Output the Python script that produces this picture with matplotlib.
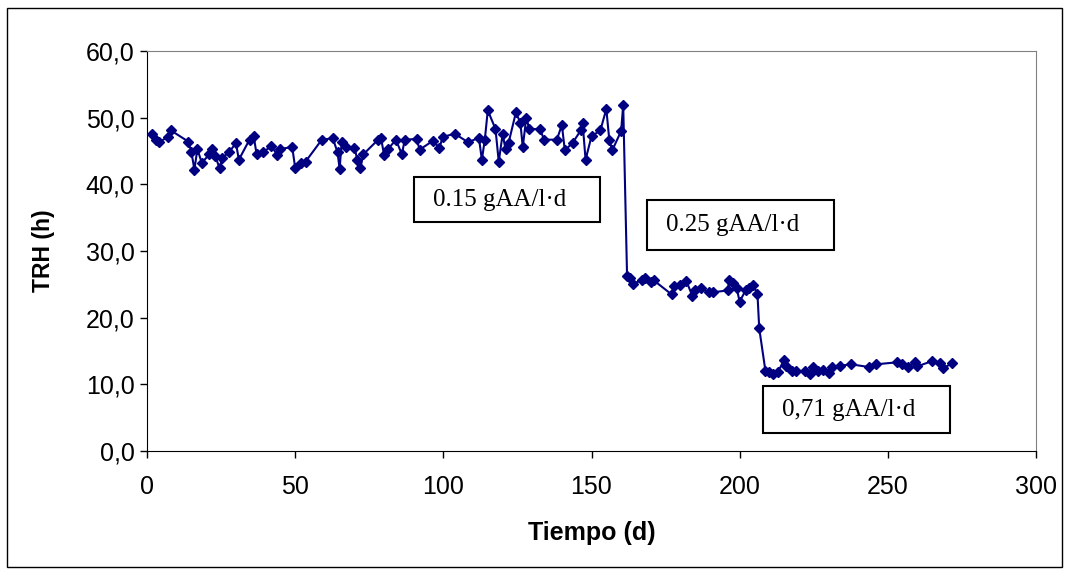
import matplotlib
matplotlib.use('Agg')
from matplotlib import pyplot as plt
from matplotlib.patches import Rectangle
from matplotlib.ticker import FuncFormatter

# data
dias = [1.6, 3, 4, 7, 8, 14, 15, 16, 17, 18.5, 21, 22, 23, 24.5, 25.4, 27.7, 30, 31,
        34.6, 36, 37, 39, 42, 44, 45, 49, 50, 52, 53.5, 59, 62.7, 64.3, 65, 65.7, 67,
        70, 71, 72, 73, 78, 79, 80, 81.4, 84, 86, 87, 91, 92, 96.4, 98.7, 99.8, 103.8,
        108.4, 112, 113, 114, 115, 117.6, 118.7, 120, 121, 122, 124.5, 126, 126.8, 128,
        129, 132.6, 134, 138.3, 140, 141, 143.6, 146.4, 147, 148, 150, 153, 155, 156,
        157, 160, 160.7, 162, 163, 164, 167, 168, 170, 171, 177, 178, 180, 182, 184,
        185, 187, 189.5, 191, 196, 196.5, 197.6, 199, 200, 202, 203, 204.5, 206, 206.6,
        208.7, 210, 211.4, 213, 215, 215.6, 217.5, 219, 222, 223.7, 224.8, 226.4, 228,
        230, 231, 234, 237.7, 243.5, 246, 253, 254.8, 256.7, 259, 260, 265, 267.5,
        268.7, 271.8]
trh = [47.6, 46.7, 46.3, 47.1, 48.1, 46.4, 44.8, 42.2, 45.3, 43.2, 44.5, 45.3, 44.3,
       42.4, 44.0, 44.8, 46.2, 43.7, 46.7, 47.2, 44.5, 44.8, 45.7, 44.4, 45.3, 45.6,
       42.5, 43.2, 43.4, 46.7, 46.9, 44.8, 42.3, 46.4, 45.6, 45.5, 43.7, 42.4, 44.5,
       46.7, 46.9, 44.4, 45.3, 46.7, 44.5, 46.7, 46.8, 45.2, 46.5, 45.5, 47.1, 47.6,
       46.3, 47.0, 43.7, 46.7, 51.1, 48.3, 43.4, 47.5, 45.3, 46.2, 50.8, 49.2, 45.6,
       50.0, 48.3, 48.3, 46.7, 46.7, 48.9, 45.1, 46.2, 48.1, 49.2, 43.7, 47.2, 48.1,
       51.3, 46.7, 45.1, 48.0, 51.9, 26.3, 26.0, 25.1, 25.6, 25.9, 25.3, 25.6, 23.5,
       24.7, 24.9, 25.5, 23.3, 24.1, 24.4, 23.8, 23.8, 24.1, 25.7, 25.2, 24.4, 22.4,
       24.1, 24.4, 24.9, 23.6, 18.4, 12.0, 11.9, 11.6, 11.9, 13.7, 12.7, 12.0, 12.0,
       12.0, 11.6, 12.6, 12.0, 12.1, 11.7, 12.6, 12.8, 13.0, 12.6, 13.0, 13.3, 13.1,
       12.6, 13.3, 12.7, 13.5, 13.2, 12.4, 13.2]

# text boxes: label, (x0, x1, y0, y1) in data units
etiquetas = ['0.15 gAA/l\u00b7d', '0.25 gAA/l\u00b7d', '0,71 gAA/l\u00b7d']
cajas = [(90.1, 152.9, 34.3, 41.1), (168.7, 231.9, 30.1, 37.6), (207.9, 271.0, 2.7, 9.7)]

plt.rcParams['font.family'] = ['Liberation Sans', 'DejaVu Sans']

fig = plt.figure(figsize=(10.69, 5.69), dpi=100)
ax = fig.add_axes([147 / 1069, 1 - 451 / 569, 889 / 1069, 400 / 569])

# outer frame of the chart
fig.patches.append(Rectangle((7 / 1069, 2 / 569), 1055 / 1069, 559 / 569,
                             transform=fig.transFigure, fill=False,
                             edgecolor='black', linewidth=1))

ax.plot(dias, trh, color='#000080', marker='D', markersize=5.5, linewidth=1.5,
        clip_on=False, zorder=3)

ax.set_xlim(0, 300)
ax.set_ylim(0, 60)
ax.set_xticks(range(0, 301, 50))
ax.set_yticks(range(0, 61, 10))
ax.yaxis.set_major_formatter(FuncFormatter(lambda v, p: ('%.1f' % v).replace('.', ',')))
ax.tick_params(direction='out', length=5, width=1, labelsize=18)
ax.tick_params(axis='x', pad=12)
ax.tick_params(axis='y', pad=4)

for s in ['top', 'right']:
    ax.spines[s].set_color('#808080')
for s in ['left', 'bottom']:
    ax.spines[s].set_color('black')

ax.set_xlabel('Tiempo (d)', fontsize=18, fontweight='bold', labelpad=16)
ax.set_ylabel('TRH (h)', fontsize=16.5, fontweight='bold', labelpad=22)

for txt, (x0, x1, y0, y1) in zip(etiquetas, cajas):
    ax.add_patch(Rectangle((x0, y0), x1 - x0, y1 - y0, fill=False,
                           edgecolor='black', linewidth=1.5, zorder=4))
    ax.text(x0 + 6.5, (y0 + y1) / 2, txt, fontsize=18, family='Liberation Serif',
            va='center', ha='left', zorder=5)

fig.savefig('out.png', dpi=100)
